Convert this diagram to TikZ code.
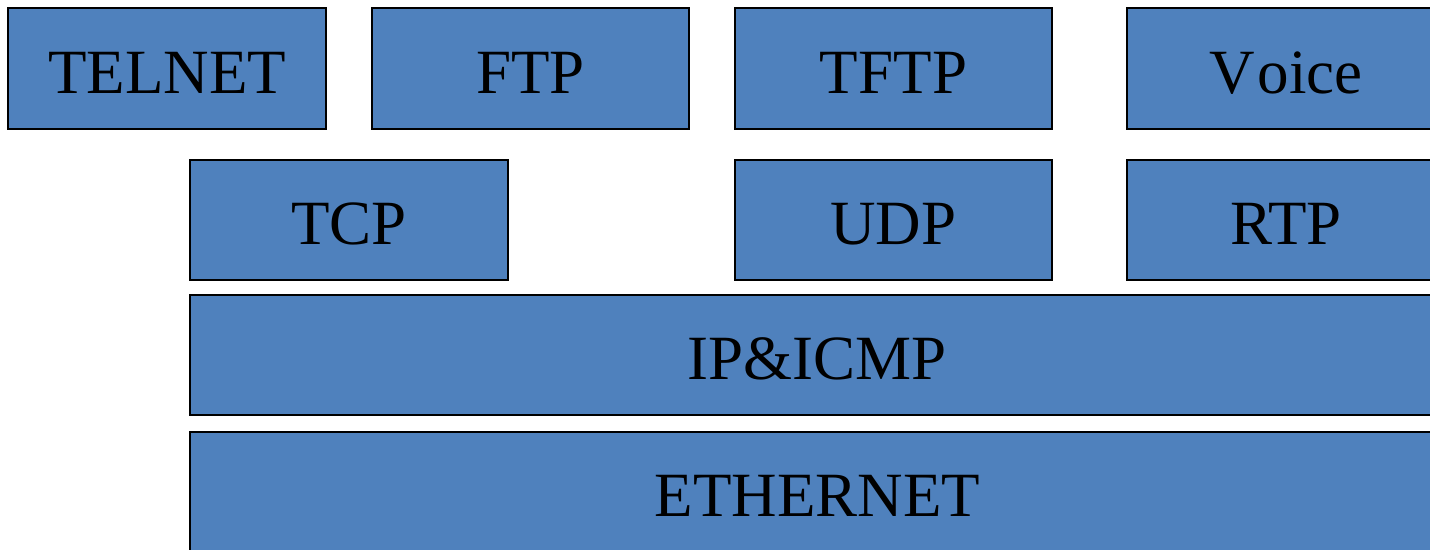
\documentclass[tikz,border=0pt]{standalone}
\usepackage{fontspec}
\setmainfont{Liberation Serif}
\definecolor{boxblue}{HTML}{4F81BD}
\begin{document}
\begin{tikzpicture}[x=1pt,y=-1pt,
  layer/.style={draw=black,line width=1.5pt,fill=boxblue,inner sep=0pt,anchor=center,
    text height=49pt,text depth=0pt,
    font=\fontsize{63}{63}\selectfont}]
\useasboundingbox (0,0) rectangle (1430,549);
\clip (0,0) rectangle (1430,549);
\node[layer,minimum width=318pt,minimum height=121pt] (telnet) at (167,68.5) {TELNET};
\node[layer,minimum width=317pt,minimum height=121pt] (ftp) at (530.5,68.5) {FTP};
\node[layer,minimum width=317pt,minimum height=121pt] (tftp) at (893.5,68.5) {TFTP};
\node[layer,minimum width=318pt,minimum height=121pt] (voice) at (1286,68.5) {V\kern3pt oice};
\node[layer,minimum width=318pt,minimum height=120pt] (tcp) at (349,220) {TCP};
\node[layer,minimum width=317pt,minimum height=120pt] (udp) at (893.5,220) {UDP};
\node[layer,minimum width=318pt,minimum height=120pt] (rtp) at (1286,220) {RTP};
\node[layer,minimum width=1255pt,minimum height=120pt] (ip) at (817.5,355) {IP\&ICMP};
\node[layer,minimum width=1255pt,minimum height=120pt] (eth) at (817.5,492) {ETHERNET};
\end{tikzpicture}
\end{document}
